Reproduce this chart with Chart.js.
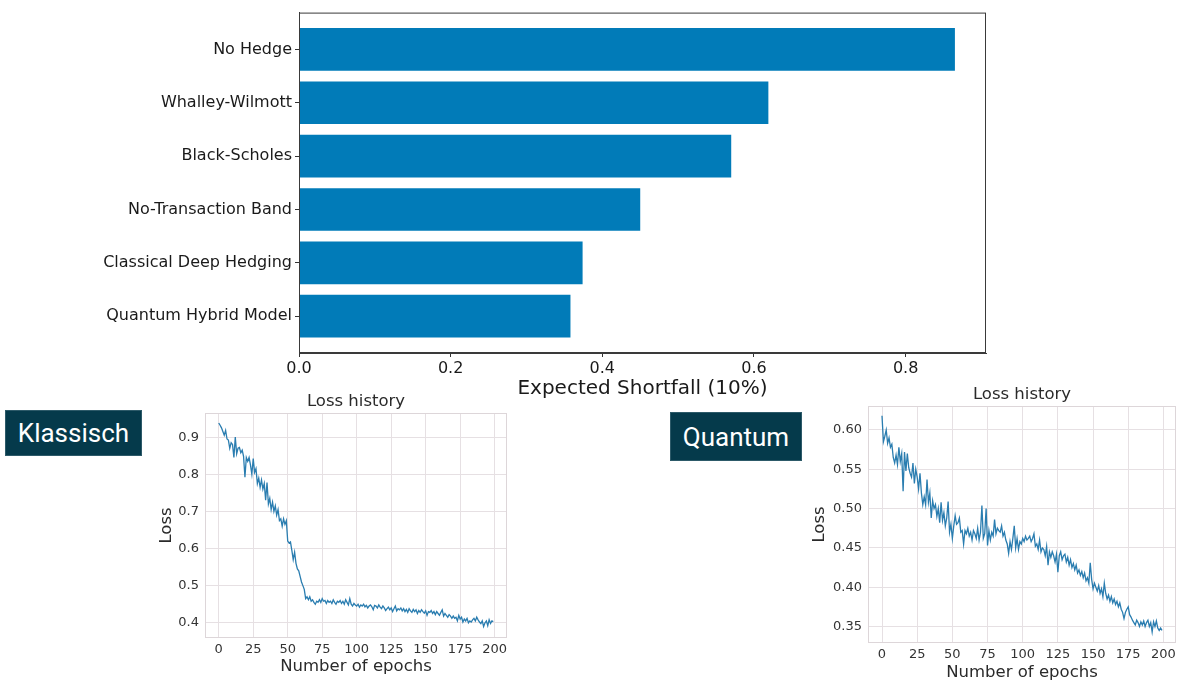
<!DOCTYPE html>
<html>
<head>
<meta charset="utf-8">
<script src="https://cdn.jsdelivr.net/npm/chart.js@4.4.1/dist/chart.umd.min.js"></script>
<style>
  html, body { margin: 0; padding: 0; background: #fff; }
  body { width: 1201px; height: 680px; position: relative; overflow: hidden; }
  canvas { position: absolute; }
  #bars { left: 0; top: 0; }
  #lossK { left: 150px; top: 385px; }
  #lossQ { left: 810px; top: 378px; }
  .tag {
    position: absolute; box-sizing: border-box;
    background: #053a4b; border: 1px solid #2d5a69; color: #fff;
    font-family: Roboto, sans-serif; font-size: 26px;
    display: flex; align-items: center; justify-content: center;
  }
</style>
</head>
<body>
<canvas id="bars" width="1201" height="405"></canvas>
<canvas id="lossK" width="370" height="295"></canvas>
<canvas id="lossQ" width="391" height="310"></canvas>
<div class="tag" style="left:5px;top:410px;width:137px;height:46px;">Klassisch</div>
<div class="tag" style="left:670px;top:412px;width:132px;height:49px;">Quantum</div>

<script>
// Top chart: expected shortfall per hedging strategy (top to bottom)
const strategies = ["No Hedge", "Whalley-Wilmott", "Black-Scholes", "No-Transaction Band",
                    "Classical Deep Hedging", "Quantum Hybrid Model"];
const shortfall = [0.865, 0.619, 0.570, 0.450, 0.374, 0.358];
const shortfallTicks = [0, 0.2, 0.4, 0.6, 0.8];

// Loss history, one value per epoch (0..199)
const lossClassical = [
  0.938, 0.932, 0.925, 0.915, 0.905, 0.918, 0.895, 0.892, 0.870, 0.885,
  0.880, 0.845, 0.900, 0.855, 0.870, 0.872, 0.858, 0.865, 0.848, 0.792,
  0.845, 0.835, 0.845, 0.825, 0.800, 0.842, 0.805, 0.815, 0.775, 0.790,
  0.765, 0.785, 0.760, 0.775, 0.730, 0.778, 0.720, 0.735, 0.705, 0.725,
  0.700, 0.715, 0.690, 0.705, 0.675, 0.680, 0.660, 0.680, 0.665, 0.675,
  0.620, 0.615, 0.618, 0.595, 0.570, 0.590, 0.560, 0.545, 0.540, 0.525,
  0.510, 0.500, 0.490, 0.465, 0.470, 0.462, 0.470, 0.458, 0.462, 0.455,
  0.450, 0.458, 0.455, 0.462, 0.455, 0.465, 0.458, 0.460, 0.452, 0.460,
  0.455, 0.458, 0.452, 0.462, 0.455, 0.450, 0.458, 0.455, 0.460, 0.452,
  0.458, 0.450, 0.462, 0.455, 0.448, 0.465, 0.450, 0.445, 0.452, 0.448,
  0.445, 0.450, 0.442, 0.448, 0.445, 0.450, 0.443, 0.447, 0.440, 0.445,
  0.448, 0.443, 0.435, 0.447, 0.445, 0.440, 0.448, 0.442, 0.438, 0.445,
  0.440, 0.433, 0.438, 0.442, 0.435, 0.440, 0.430, 0.438, 0.445, 0.432,
  0.438, 0.435, 0.440, 0.432, 0.438, 0.430, 0.436, 0.428, 0.438, 0.432,
  0.428, 0.436, 0.430, 0.435, 0.425, 0.433, 0.428, 0.435, 0.430, 0.426,
  0.432, 0.420, 0.430, 0.428, 0.433, 0.425, 0.430, 0.422, 0.430, 0.425,
  0.420, 0.428, 0.435, 0.418, 0.425, 0.420, 0.415, 0.422, 0.418, 0.412,
  0.418, 0.412, 0.415, 0.405, 0.420, 0.410, 0.415, 0.402, 0.410, 0.405,
  0.412, 0.400, 0.405, 0.402, 0.408, 0.412, 0.405, 0.415, 0.408, 0.402,
  0.398, 0.405, 0.390, 0.400, 0.405, 0.392, 0.408, 0.398, 0.405, 0.403
];
const lossQuantum = [
  0.618, 0.585, 0.592, 0.600, 0.583, 0.590, 0.578, 0.582, 0.565, 0.558,
  0.568, 0.556, 0.578, 0.560, 0.570, 0.522, 0.572, 0.548, 0.570, 0.552,
  0.545, 0.540, 0.558, 0.532, 0.550, 0.540, 0.525, 0.545, 0.520, 0.505,
  0.515, 0.505, 0.537, 0.508, 0.520, 0.488, 0.510, 0.500, 0.505, 0.490,
  0.500, 0.482, 0.508, 0.485, 0.495, 0.478, 0.488, 0.509, 0.470, 0.480,
  0.462, 0.478, 0.491, 0.480, 0.482, 0.488, 0.470, 0.472, 0.455, 0.472,
  0.468, 0.475, 0.465, 0.470, 0.460, 0.472, 0.468, 0.462, 0.475, 0.460,
  0.470, 0.504, 0.462, 0.468, 0.500, 0.453, 0.472, 0.460, 0.470, 0.465,
  0.486, 0.468, 0.475, 0.472, 0.470, 0.478, 0.465, 0.470, 0.460, 0.455,
  0.443, 0.458, 0.448, 0.462, 0.478, 0.450, 0.462, 0.448, 0.458, 0.455,
  0.462, 0.458, 0.465, 0.460, 0.462, 0.465, 0.458, 0.462, 0.468, 0.452,
  0.455, 0.448, 0.460, 0.445, 0.450, 0.448, 0.440, 0.452, 0.428, 0.445,
  0.438, 0.445, 0.440, 0.432, 0.442, 0.419, 0.440, 0.445, 0.435, 0.440,
  0.442, 0.432, 0.438, 0.428, 0.435, 0.425, 0.430, 0.422, 0.428, 0.418,
  0.422, 0.415, 0.420, 0.412, 0.418, 0.408, 0.412, 0.405, 0.431, 0.410,
  0.398, 0.405, 0.400, 0.395, 0.402, 0.392, 0.398, 0.388, 0.405, 0.392,
  0.385, 0.390, 0.382, 0.388, 0.380, 0.385, 0.378, 0.382, 0.375, 0.380,
  0.372, 0.368, 0.360, 0.368, 0.372, 0.375, 0.365, 0.362, 0.358, 0.355,
  0.352, 0.358, 0.355, 0.350, 0.356, 0.352, 0.357, 0.350, 0.355, 0.358,
  0.350, 0.355, 0.343, 0.356, 0.350, 0.357, 0.348, 0.345, 0.348, 0.345
];
const epochTicks = [0, 25, 50, 75, 100, 125, 150, 175, 200];
const lossClassicalTicks = [0.4, 0.5, 0.6, 0.7, 0.8, 0.9];
const lossQuantumTicks = [0.35, 0.40, 0.45, 0.50, 0.55, 0.60];

const FONT = "'DejaVu Sans', sans-serif";
const BAR_BLUE = "#017bb8";
const LINE_BLUE = "#2a7db0";
const GRID = "#e6e0e3";

// draws a box round the plot area
const frame = {
  id: "frame",
  afterDraw(chart, args, opts) {
    const { ctx, chartArea: a } = chart;
    ctx.save();
    ctx.strokeStyle = opts.color;
    ctx.lineWidth = 1;
    ctx.strokeRect(a.left + 0.5, a.top + 0.5, a.right - a.left - 1, a.bottom - a.top - 1);
    ctx.restore();
  }
};

const setTicks = list => scale => { scale.ticks = list.map(v => ({ value: v })); };

// --- bar chart
new Chart(document.getElementById("bars"), {
  type: "bar",
  data: {
    datasets: [{
      data: shortfall.map((v, i) => ({ x: v, y: i })),
      backgroundColor: BAR_BLUE,
      barPercentage: 0.8,
      categoryPercentage: 1.0
    }]
  },
  options: {
    indexAxis: "y",
    responsive: false,
    animation: false,
    layout: { padding: { top: 12, right: 215, left: 0, bottom: 0 } },
    plugins: { legend: { display: false }, tooltip: { enabled: false }, frame: { color: "#3a3a3a" } },
    scales: {
      x: {
        type: "linear", min: 0, max: 0.906,
        afterBuildTicks: setTicks(shortfallTicks),
        afterFit: s => { s.height = 52; },
        grid: { drawOnChartArea: false, drawTicks: true, tickLength: 4, tickColor: "#333" },
        border: { display: true, color: "#3a3a3a" },
        ticks: { font: { family: FONT, size: 16 }, color: "#1a1a1a", padding: 2, maxRotation: 0,
                 callback: v => v.toFixed(1) },
        title: { display: true, text: "Expected Shortfall (10%)", font: { family: FONT, size: 20 },
                 color: "#1a1a1a", padding: { top: 0, bottom: 4 } }
      },
      y: {
        type: "linear", min: -0.69, max: 5.69, reverse: true, offset: false,
        afterBuildTicks: setTicks([0, 1, 2, 3, 4, 5]),
        afterFit: s => { s.width = 299; },
        grid: { offset: false, drawOnChartArea: false, drawTicks: true, tickLength: 4, tickColor: "#333" },
        border: { display: true, color: "#3a3a3a" },
        ticks: { font: { family: FONT, size: 16 }, color: "#1a1a1a", padding: 3,
                 callback: v => strategies[v] }
      }
    }
  },
  plugins: [frame]
});

// --- loss history charts
function lossChart(id, values, yTicks, digits, yMin, yMax, box) {
  return new Chart(document.getElementById(id), {
    type: "line",
    data: {
      datasets: [{
        data: values.map((v, i) => ({ x: i, y: v })),
        borderColor: LINE_BLUE,
        borderWidth: 1.3,
        pointRadius: 0,
        tension: 0
      }]
    },
    options: {
      responsive: false,
      animation: false,
      layout: { padding: { top: 0, right: box.right, left: 0, bottom: 0 } },
      plugins: {
        legend: { display: false },
        tooltip: { enabled: false },
        frame: { color: "#ddd6d9" },
        title: { display: true, text: "Loss history", fullSize: false, color: "#2a2a2a",
                 font: { family: FONT, size: 16.5, weight: "normal" }, padding: { top: 7, bottom: 1.2 } }
      },
      scales: {
        x: {
          type: "linear", min: -9.95, max: 208.95,
          afterBuildTicks: setTicks(epochTicks),
          afterFit: s => { s.height = box.xh; },
          grid: { color: GRID, drawTicks: false },
          border: { display: false },
          ticks: { font: { family: FONT, size: 13 }, color: "#333", padding: 4, maxRotation: 0 },
          title: { display: true, text: "Number of epochs", font: { family: FONT, size: 16.5 },
                   color: "#2a2a2a", padding: { top: 0, bottom: box.xtPad } }
        },
        y: {
          type: "linear", min: yMin, max: yMax,
          afterBuildTicks: setTicks(yTicks),
          afterFit: s => { s.width = box.yw; },
          grid: { color: GRID, drawTicks: false },
          border: { display: false },
          ticks: { font: { family: FONT, size: 13 }, color: "#333", padding: 6,
                   callback: v => v.toFixed(digits) },
          title: { display: true, text: "Loss", font: { family: FONT, size: 16.5 },
                   color: "#2a2a2a", padding: { top: box.ytPad, bottom: 0 } }
        }
      }
    },
    plugins: [frame]
  });
}

lossChart("lossK", lossClassical, lossClassicalTicks, 1, 0.359, 0.965,
          { right: 13, xh: 42, yw: 55, xtPad: 3, ytPad: 7 });
lossChart("lossQ", lossQuantum, lossQuantumTicks, 2, 0.329, 0.6305,
          { right: 25, xh: 45, yw: 58, xtPad: 5, ytPad: 0 });
</script>
</body>
</html>
